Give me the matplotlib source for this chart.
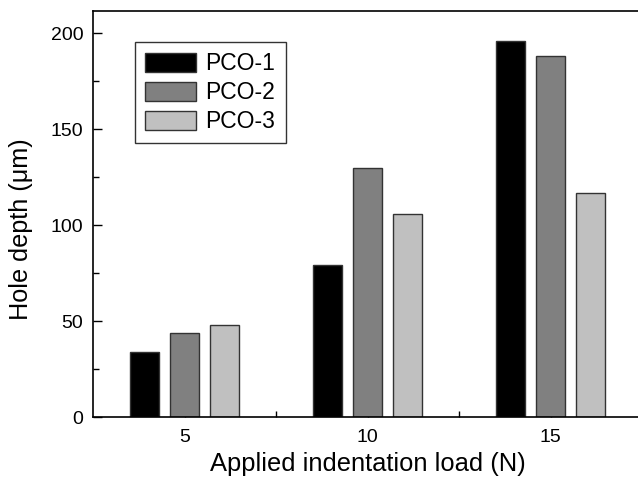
import matplotlib.pyplot as plt
import numpy as np
from matplotlib.ticker import MultipleLocator, FixedLocator

# data
loads = [5, 10, 15]
series_names = ['PCO-1', 'PCO-2', 'PCO-3']
pco1 = [34, 79, 196]
pco2 = [44, 130, 188]
pco3 = [48, 106, 117]
colors = ['#000000', '#808080', '#c0c0c0']

plt.rcParams['font.family'] = ['Liberation Sans', 'DejaVu Sans']

fig = plt.figure(figsize=(6.38, 4.82), dpi=100)
# right edge sits just past the figure, like the cropped original
ax = fig.add_axes([93 / 638, 1 - 417 / 482, 549 / 638, 406 / 482])

x = np.array(loads, dtype=float)
offsets = [-1.1, 0.0, 1.1]
for vals, off, c, name in zip([pco1, pco2, pco3], offsets, colors, series_names):
    ax.bar(x + off, vals, width=0.8, color=c, edgecolor='#333333',
           linewidth=1.0, label=name, zorder=2)

ax.set_xlim(2.5, 17.5)
ax.set_ylim(0, 211.7)
ax.set_xticks(loads)
ax.xaxis.set_minor_locator(FixedLocator([7.5, 12.5]))
ax.yaxis.set_major_locator(MultipleLocator(50))
ax.yaxis.set_minor_locator(MultipleLocator(25))
ax.tick_params(which='both', direction='in', labelsize=14, width=1)
ax.tick_params(which='major', length=6.5)
ax.tick_params(which='minor', length=4)
ax.tick_params(axis='x', pad=9)
ax.tick_params(axis='y', pad=7)

for s in ax.spines.values():
    s.set_linewidth(1.2)

ax.set_xlabel('Applied indentation load (N)', fontsize=18.4, labelpad=4)
ax.set_ylabel('Hole depth (\u03bcm)', fontsize=18.2)
ax.yaxis.set_label_coords(-0.11, 0.463)

leg = ax.legend(loc='upper left', bbox_to_anchor=(0.0765, 0.924), fontsize=16.5,
                frameon=True, fancybox=False, edgecolor='black',
                handlelength=2.23, handleheight=0.92, labelspacing=0.26,
                handletextpad=0.4, borderpad=0.45, borderaxespad=0)
leg.get_frame().set_linewidth(1.0)

fig.savefig('out.png', dpi=100)
